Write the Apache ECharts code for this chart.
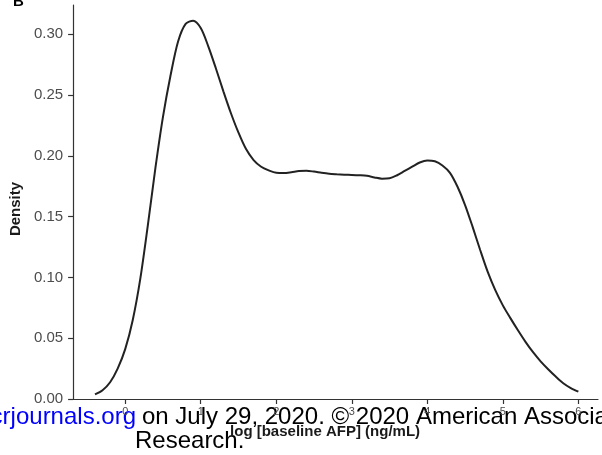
<!DOCTYPE html>
<html>
<head>
<meta charset="utf-8">
<script src="https://cdn.jsdelivr.net/npm/echarts@6/dist/echarts.min.js"></script>
<style>html,body{margin:0;padding:0;background:#fff}#c{width:602px;height:455px}</style>
</head>
<body>
<div id="c"></div>
<script>
// log[baseline AFP] values (x, step 0.1) and density (y)
const logAFP = [-0.4, -0.3, -0.2, -0.1, 0.0, 0.1, 0.2, 0.3, 0.4, 0.5, 0.6, 0.7, 0.8, 0.9, 1.0, 1.1, 1.2, 1.3, 1.4, 1.5, 1.6, 1.7, 1.8, 1.9, 2.0, 2.1, 2.2, 2.3, 2.4, 2.5, 2.6, 2.7, 2.8, 2.9, 3.0, 3.1, 3.2, 3.3, 3.4, 3.5, 3.6, 3.7, 3.8, 3.9, 4.0, 4.1, 4.2, 4.3, 4.4, 4.5, 4.6, 4.7, 4.8, 4.9, 5.0, 5.1, 5.2, 5.3, 5.4, 5.5, 5.6, 5.7, 5.8, 5.9, 6.0];
const density = [0.0038, 0.0072, 0.0138, 0.025, 0.041, 0.065, 0.099, 0.143, 0.19, 0.232, 0.266, 0.294, 0.3085, 0.311, 0.305, 0.29, 0.272, 0.253, 0.235, 0.219, 0.2055, 0.1965, 0.191, 0.188, 0.186, 0.1858, 0.1865, 0.1875, 0.1877, 0.187, 0.186, 0.1852, 0.1848, 0.1845, 0.1843, 0.184, 0.1835, 0.1822, 0.1812, 0.1815, 0.184, 0.1875, 0.191, 0.1945, 0.1962, 0.1955, 0.192, 0.186, 0.1745, 0.1595, 0.1415, 0.1225, 0.1045, 0.0895, 0.077, 0.0665, 0.0565, 0.047, 0.0385, 0.031, 0.0245, 0.0185, 0.013, 0.009, 0.006];
const xTicks = [0, 1, 2, 3, 4, 5, 6];
const yTicks = [0, 0.05, 0.10, 0.15, 0.20, 0.25, 0.30];
const xName = 'log [baseline AFP] (ng/mL)';
const yName = 'Density';
const panelLabel = 'B';

const chart = echarts.init(document.getElementById('c'), null, {renderer: 'canvas'});
const axisColor = '#333333';
const labelColor = '#4d4d4d';
chart.setOption({
  animation: false,
  backgroundColor: '#ffffff',
  grid: {left: 73, right: 4, top: 5, bottom: 56, containLabel: false},
  xAxis: {
    type: 'value', min: -0.69, max: 6.26,
    name: xName, nameLocation: 'middle', nameGap: 25,
    nameTextStyle: {fontFamily: 'Liberation Sans, Arial', fontWeight: 'bold', fontSize: 15, color: '#1a1a1a', padding: [0, 21, 0, 0]},
    axisLine: {onZero: false, lineStyle: {color: axisColor, width: 1.2}},
    axisTick: {show: true, length: 5, customValues: xTicks, lineStyle: {color: axisColor, width: 1.2}},
    axisLabel: {customValues: xTicks, margin: 7, fontSize: 11, color: labelColor, fontFamily: 'Liberation Sans, Arial'},
    splitLine: {show: false}
  },
  yAxis: {
    type: 'value', min: 0, max: 0.324,
    name: yName, nameLocation: 'middle', nameGap: 50,
    nameTextStyle: {fontFamily: 'Liberation Sans, Arial', fontWeight: 'bold', fontSize: 15, color: '#1a1a1a', padding: [0, 14, 0, 0]},
    axisLine: {show: true, onZero: false, lineStyle: {color: axisColor, width: 1.2}},
    axisTick: {show: true, length: 5, customValues: yTicks, lineStyle: {color: axisColor, width: 1.2}},
    axisLabel: {customValues: yTicks, margin: 10, fontSize: 15, color: labelColor, fontFamily: 'Liberation Sans, Arial', formatter: v => v.toFixed(2)},
    splitLine: {show: false}
  },
  series: [{
    type: 'line',
    data: logAFP.map((x, i) => [x, density[i]]),
    smooth: 0.3,
    showSymbol: false,
    lineStyle: {color: '#222222', width: 2}
  }],
  graphic: [
    {type: 'text', left: 13, top: -6, style: {text: panelLabel, font: 'bold 15px "Liberation Sans", Arial', fill: '#000'}},
    {type: 'text', x: 136, y: 417, style: {text: 'cancerres.aacrjournals.org', font: '24px "Liberation Sans", Arial', fill: '#0000ff', align: 'right', verticalAlign: 'middle'}},
    {type: 'text', x: 142, y: 417, style: {text: 'on July 29, 2020. © 2020 American Association for Cancer', font: '24px "Liberation Sans", Arial', fill: '#000', align: 'left', verticalAlign: 'middle'}},
    {type: 'text', x: 135, y: 441, style: {text: 'Research.', font: '24px "Liberation Sans", Arial', fill: '#000', align: 'left', verticalAlign: 'middle'}}
  ]
});
</script>
</body>
</html>
